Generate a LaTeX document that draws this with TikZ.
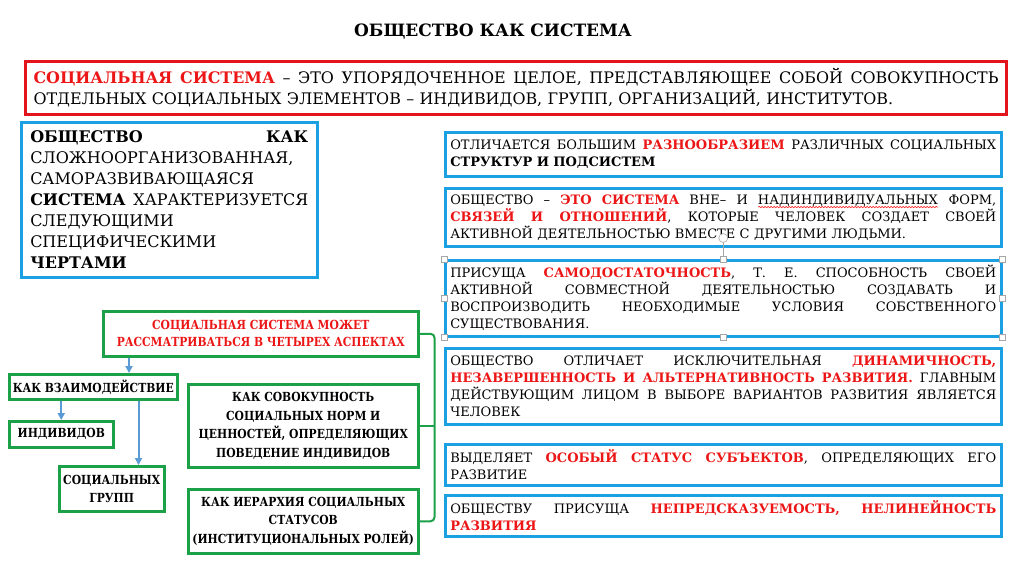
\documentclass[tikz,border=0pt]{standalone}
\usepackage{fontspec}
\setmainfont{DejaVu Serif}
\newfontfamily\condfont{DejaVu Serif}[FakeStretch=0.86]
\usetikzlibrary{calc,positioning,arrows.meta,decorations.pathmorphing}
\definecolor{boxblue}{RGB}{27,161,226}
\definecolor{boxgreen}{RGB}{28,160,72}
\definecolor{boxred}{RGB}{228,20,28}
\definecolor{txtred}{RGB}{236,22,22}
\definecolor{arrblue}{RGB}{91,155,213}
\tikzstyle{redbox}   = [draw=boxred, line width=3pt, anchor=north west, inner xsep=8pt,
                        font=\fontsize{15.9}{21}\selectfont]
\tikzstyle{bluebox}  = [draw=boxblue, line width=2.5pt, anchor=north west, inner xsep=5pt,
                        inner ysep=2pt, font=\fontsize{13}{17}\selectfont]
\tikzstyle{greenbox} = [draw=boxgreen, line width=2.5pt, anchor=north west, align=center,
                        inner sep=2pt, font=\condfont\bfseries\fontsize{12.5}{18.5}\selectfont]
\tikzstyle{ptr}      = [draw, -{Triangle[length=7pt,width=7pt]}, arrblue, line width=2pt]
\tikzstyle{gline}    = [draw=boxgreen, line width=2pt, rounded corners=4pt]
\tikzstyle{handle}   = [draw=gray!70, fill=white, line width=0.6pt, minimum size=6pt,
                        inner sep=0pt]
% one justified line: every space gets the same share of the spare room
\newcommand{\jl}[1]{\hbox to\hsize{\spaceskip=0.3em plus 1fil\xspaceskip=0.3em plus 1fil\relax #1}}
\newcommand{\hl}[1]{\textcolor{txtred}{\bfseries #1}}
\newlength{\wavelen}
\newcommand{\spellwave}[1]{\settowidth{\wavelen}{#1}\rlap{#1}%
  \tikz[baseline=0pt]\draw[red, line width=0.5pt, decorate,
    decoration={snake, amplitude=0.7pt, segment length=3pt}] (0pt,-3pt) -- (\wavelen,-3pt);}

\begin{document}
\begin{tikzpicture}[x=1pt, y=-1pt]
  \useasboundingbox[fill=white] (0,0) rectangle (1024,574);

  % heading and definition
  \node[font=\fontsize{17}{20}\selectfont\bfseries] (title) at (493,32) {ОБЩЕСТВО КАК СИСТЕМА};
  \node[redbox, minimum width=981, minimum height=53, text width=965] (def) at (24,60) {%
    \jl{\hl{СОЦИАЛЬНАЯ СИСТЕМА} – ЭТО УПОРЯДОЧЕННОЕ ЦЕЛОЕ, ПРЕДСТАВЛЯЮЩЕЕ СОБОЙ СОВОКУПНОСТЬ}
    ОТДЕЛЬНЫХ СОЦИАЛЬНЫХ ЭЛЕМЕНТОВ – ИНДИВИДОВ, ГРУПП, ОРГАНИЗАЦИЙ, ИНСТИТУТОВ.};

  % left box
  \node[bluebox, inner xsep=9pt, font=\fontsize{16}{21}\selectfont, minimum width=296,
        minimum height=155, text width=278] (soc) at (20,121) {%
    \jl{\textbf{ОБЩЕСТВО} \textbf{КАК}}
    СЛОЖНООРГАНИЗОВАННАЯ,\par
    САМОРАЗВИВАЮЩАЯСЯ\par
    \jl{\textbf{СИСТЕМА} ХАРАКТЕРИЗУЕТСЯ}
    СЛЕДУЮЩИМИ\par
    СПЕЦИФИЧЕСКИМИ\par
    \textbf{ЧЕРТАМИ}};

  % features
  \node[bluebox, minimum width=556, minimum height=44, text width=546] (f1) at (444,131) {%
    \jl{ОТЛИЧАЕТСЯ БОЛЬШИМ \hl{РАЗНООБРАЗИЕМ} РАЗЛИЧНЫХ СОЦИАЛЬНЫХ}
    \textbf{СТРУКТУР И ПОДСИСТЕМ}};
  \node[bluebox, minimum width=556, minimum height=58, text width=546] (f2) at (444,187) {%
    \jl{ОБЩЕСТВО – \hl{ЭТО СИСТЕМА} ВНЕ– И \spellwave{НАДИНДИВИДУАЛЬНЫХ} ФОРМ,}
    \jl{\hl{СВЯЗЕЙ И ОТНОШЕНИЙ}, КОТОРЫЕ ЧЕЛОВЕК СОЗДАЕТ СВОЕЙ}
    АКТИВНОЙ ДЕЯТЕЛЬНОСТЬЮ ВМЕСТЕ С ДРУГИМИ ЛЮДЬМИ.};
  \node[bluebox, minimum width=556, minimum height=76, text width=546] (f3) at (444,259) {%
    \jl{ПРИСУЩА \hl{САМОДОСТАТОЧНОСТЬ}, Т. Е. СПОСОБНОСТЬ СВОЕЙ}
    \jl{АКТИВНОЙ СОВМЕСТНОЙ ДЕЯТЕЛЬНОСТЬЮ СОЗДАВАТЬ И}
    \jl{ВОСПРОИЗВОДИТЬ НЕОБХОДИМЫЕ УСЛОВИЯ СОБСТВЕННОГО}
    СУЩЕСТВОВАНИЯ.};
  \node[bluebox, minimum width=556, minimum height=76, text width=546] (f4) at (444,347) {%
    \jl{ОБЩЕСТВО ОТЛИЧАЕТ ИСКЛЮЧИТЕЛЬНАЯ \hl{ДИНАМИЧНОСТЬ,}}
    \jl{\hl{НЕЗАВЕРШЕННОСТЬ И АЛЬТЕРНАТИВНОСТЬ РАЗВИТИЯ.} ГЛАВНЫМ}
    \jl{ДЕЙСТВУЮЩИМ ЛИЦОМ В ВЫБОРЕ ВАРИАНТОВ РАЗВИТИЯ ЯВЛЯЕТСЯ}
    ЧЕЛОВЕК};
  \node[bluebox, minimum width=556, minimum height=41, text width=546] (f5) at (444,443) {%
    \jl{ВЫДЕЛЯЕТ \hl{ОСОБЫЙ СТАТУС СУБЪЕКТОВ}, ОПРЕДЕЛЯЮЩИХ ЕГО}
    РАЗВИТИЕ};
  \node[bluebox, minimum width=556, minimum height=41, text width=546] (f6) at (444,494) {%
    \jl{ОБЩЕСТВУ ПРИСУЩА \hl{НЕПРЕДСКАЗУЕМОСТЬ, НЕЛИНЕЙНОСТЬ}}
    \hl{РАЗВИТИЯ}};

  % selection handles on the third box
  \foreach \a in {north west,north,north east,east,south east,south,south west,west}
    \node[handle] at (f3.\a) {};
  \node[draw=gray!70, circle, fill=white, line width=0.6pt, minimum size=9pt, inner sep=0pt]
    (rot) at ($(f3.north)+(0,-21)$) {};
  \draw[gray!70, line width=0.6pt] (rot) -- ([yshift=3pt]f3.north);

  % four aspects
  \node[greenbox, minimum width=315, minimum height=45, text=txtred] (asp) at (102,310)
    {СОЦИАЛЬНАЯ СИСТЕМА МОЖЕТ\\[-1.5pt]РАССМАТРИВАТЬСЯ В ЧЕТЫРЕХ АСПЕКТАХ};
  \node[greenbox, minimum width=168, minimum height=25] (inter) at (8,373) {КАК ВЗАИМОДЕЙСТВИЕ};
  \node[greenbox, minimum width=104, minimum height=26] (indiv) at (8,420) {ИНДИВИДОВ};
  \node[greenbox, minimum width=105, minimum height=45] (groups) at (58,465) {СОЦИАЛЬНЫХ\\ГРУПП};
  \node[greenbox, minimum width=230, minimum height=83] (norm) at (187,383)
    {КАК СОВОКУПНОСТЬ\\СОЦИАЛЬНЫХ НОРМ И\\ЦЕННОСТЕЙ, ОПРЕДЕЛЯЮЩИХ\\ПОВЕДЕНИЕ ИНДИВИДОВ};
  \node[greenbox, minimum width=230, minimum height=64] (hier) at (187,488)
    {КАК ИЕРАРХИЯ СОЦИАЛЬНЫХ\\СТАТУСОВ\\(ИНСТИТУЦИОНАЛЬНЫХ РОЛЕЙ)};

  \draw[ptr] ([xshift=27pt]asp.south west) -- ([xshift=27pt]asp.south west |- inter.north);
  \draw[ptr] (inter.south -| indiv.north) -- (indiv.north);
  \draw[ptr] ([xshift=-40pt]inter.south east) -- ([xshift=-40pt]inter.south east |- groups.north);

  \coordinate (bx) at ($(hier.east)+(15,0)$);
  \draw[gline] (asp.east) -| (bx) -- (hier.east);
  \draw[gline] (norm.east) -- (norm.east -| bx);
\end{tikzpicture}
\end{document}
